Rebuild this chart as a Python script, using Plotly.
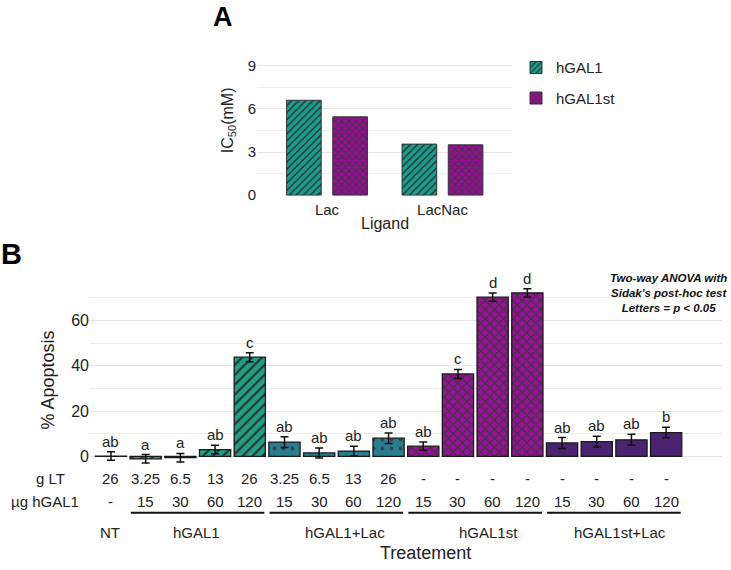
import plotly.graph_objects as go

W, H = 731, 570

# ---------------- Panel A data ----------------
ligands = ["Lac", "LacNac"]
ic50_hgal1 = [6.6, 3.55]
ic50_hgal1st = [5.45, 3.5]
a_yticks = [0, 3, 6, 9]

# ---------------- Panel B data ----------------
treat_ids = ["NT",
             "hGAL1 15", "hGAL1 30", "hGAL1 60", "hGAL1 120",
             "hGAL1+Lac 15", "hGAL1+Lac 30", "hGAL1+Lac 60", "hGAL1+Lac 120",
             "hGAL1st 15", "hGAL1st 30", "hGAL1st 60", "hGAL1st 120",
             "hGAL1st+Lac 15", "hGAL1st+Lac 30", "hGAL1st+Lac 60", "hGAL1st+Lac 120"]
treat_group = ["NT"] + ["hGAL1"] * 4 + ["hGAL1+Lac"] * 4 + ["hGAL1st"] * 4 + ["hGAL1st+Lac"] * 4
apoptosis = [0.12, -1.1, -0.6, 3.0, 43.8, 6.3, 1.5, 2.3, 8.0,
             4.5, 36.4, 70.3, 72.2, 5.9, 6.5, 7.3, 10.5]
apoptosis_err = [1.9, 1.9, 1.9, 1.9, 2.0, 2.4, 2.2, 2.2, 2.3,
                 1.8, 2.0, 1.8, 1.8, 2.4, 2.4, 2.4, 2.3]
letters = ["ab", "a", "a", "ab", "c", "ab", "ab", "ab", "ab",
           "ab", "c", "d", "d", "ab", "ab", "ab", "b"]
g_lt = ["26", "3.25", "6.5", "13", "26", "3.25", "6.5", "13", "26",
        "-", "-", "-", "-", "-", "-", "-", "-"]
ug_hgal1 = ["-", "15", "30", "60", "120", "15", "30", "60", "120",
            "15", "30", "60", "120", "15", "30", "60", "120"]
group_names = ["NT", "hGAL1", "hGAL1+Lac", "hGAL1st", "hGAL1st+Lac"]
b_yticks = [0, 20, 40, 60]

FONT = "Liberation Sans, Arial, sans-serif"
TXT = "#222222"


def px_x(p):
    return p / W


def px_y(p):
    return 1 - p / H


fig = go.Figure()

# ---------------- Panel A bars ----------------
fig.add_trace(go.Bar(
    x=ligands, y=ic50_hgal1, name="hGAL1", xaxis="x", yaxis="y",
    offset=-0.35, width=0.30,
    marker=dict(color="#14a08f", line=dict(color="#333333", width=1),
                pattern=dict(shape="/", fgcolor="#333333", bgcolor="#14a08f",
                             size=5, solidity=0.3, fillmode="replace")),
    legendgroup="a1", showlegend=True,
))
fig.add_trace(go.Bar(
    x=ligands, y=ic50_hgal1st, name="hGAL1st", xaxis="x", yaxis="y",
    offset=0.05, width=0.30,
    marker=dict(color="#9a0c9a", line=dict(color="#333333", width=1),
                pattern=dict(shape="x", fgcolor="#383838", bgcolor="#9a0c9a",
                             size=5, solidity=0.36, fillmode="replace")),
    legendgroup="a2", showlegend=True,
))

# ---------------- Panel B bars ----------------
styles = {
    "NT": dict(color="rgba(255,255,255,0)", pattern=None),
    "hGAL1": dict(color="#1fa087", pattern=dict(shape="/", fgcolor="#2e2e2e", bgcolor="#1fa087",
                                                size=7, solidity=0.3, fillmode="replace")),
    "hGAL1+Lac": dict(color="#287d8e", pattern=dict(shape=".", fgcolor="#34424b", bgcolor="#287d8e",
                                                    size=9, solidity=0.14, fillmode="replace")),
    "hGAL1st": dict(color="#9c0e9c", pattern=dict(shape="x", fgcolor="#383838", bgcolor="#9c0e9c",
                                                  size=6.5, solidity=0.36, fillmode="replace")),
    "hGAL1st+Lac": dict(color="#4a2371", pattern=None),
}
for g in group_names:
    idx = [i for i, t in enumerate(treat_group) if t == g]
    st = styles[g]
    mk = dict(color=st["color"], line=dict(color="#1a1a1a", width=1.3))
    if st["pattern"] is not None:
        mk["pattern"] = st["pattern"]
    fig.add_trace(go.Bar(
        x=[treat_ids[i] for i in idx],
        y=[apoptosis[i] for i in idx],
        error_y=dict(type="data", array=[apoptosis_err[i] for i in idx],
                     color="#111111", thickness=1.5, width=4),
        xaxis="x2", yaxis="y2", width=0.9, showlegend=False,
        marker=mk,
    ))

annotations = []
shapes = []


def ann(x, y, text, size=15, xref="paper", yref="paper", **kw):
    d = dict(x=x, y=y, xref=xref, yref=yref, text=text, showarrow=False,
             xanchor="center", yanchor="middle",
             font=dict(family=FONT, size=size, color=kw.pop("color", TXT)))
    d.update(kw)
    return d


# significance letters
for i, t in enumerate(treat_ids):
    annotations.append(ann(t, apoptosis[i] + apoptosis_err[i], letters[i], xref="x2", yref="y2",
                           yanchor="bottom", yshift=0))

# table rows
for i, t in enumerate(treat_ids):
    annotations.append(ann(t, px_y(485), g_lt[i], xref="x2"))
    annotations.append(ann(t, px_y(509), ug_hgal1[i], xref="x2"))
annotations.append(ann(px_x(50), px_y(485), "g LT"))
annotations.append(ann(px_x(45), px_y(509), "µg hGAL1"))

# group underlines
for g in group_names[1:]:
    idx = [i for i, t in enumerate(treat_group) if t == g]
    shapes.append(dict(type="line", xref="x2", yref="paper",
                       x0=idx[0] - 0.43, x1=idx[-1] + 0.42,
                       y0=px_y(520), y1=px_y(520), line=dict(color="#111111", width=2)))

group_label_px = {"NT": 110, "hGAL1": 196, "hGAL1+Lac": 345, "hGAL1st": 488, "hGAL1st+Lac": 620}
for g in group_names:
    annotations.append(ann(px_x(group_label_px[g]), px_y(540), g))

# axis titles and panel letters
annotations += [
    ann(px_x(425), px_y(561), "Treatement", size=18),
    ann(px_x(48), px_y(386), "% Apoptosis", size=18, textangle=-90),
    ann(px_x(385), px_y(227), "Ligand", size=16),
    ann(px_x(228), px_y(122), "IC<sub>50</sub>(mM)", size=16, textangle=-90),
    ann(px_x(223), px_y(17), "<b>A</b>", size=27, color="#000000"),
    ann(px_x(11), px_y(258), "<b>B</b>", size=29, color="#000000"),
    ann(px_x(668), px_y(297),
        "<b><i>Two-way ANOVA with<br>Sidak's post-hoc test<br>Letters = p &lt; 0.05</i></b>",
        size=11.5, color="#111111", align="center"),
]

GRID = "#e6e6e6"
fig.update_layout(
    width=W, height=H, margin=dict(l=0, r=0, t=0, b=0),
    paper_bgcolor="white", plot_bgcolor="white",
    barmode="overlay",
    font=dict(family=FONT, color=TXT),
    xaxis=dict(domain=[px_x(257), px_x(512)], anchor="y", range=[-0.606, 1.602],
               showgrid=False, zeroline=False, ticks="", showline=False,
               ticklabelstandoff=3, tickfont=dict(size=15, color=TXT)),
    yaxis=dict(domain=[px_y(198.5), px_y(44)], anchor="x", range=[-0.04, 10.56],
               tickvals=a_yticks, showgrid=True, gridcolor=GRID, gridwidth=1,
               zeroline=False, ticks="", tickfont=dict(size=15, color=TXT),
               minor=dict(dtick=1.5, tick0=0, showgrid=True, gridcolor="#eeeeee", gridwidth=0.8)),
    xaxis2=dict(domain=[px_x(90), px_x(722)], anchor="y2", range=[-0.605, 17.61],
                showgrid=False, zeroline=False, ticks="", showticklabels=False,
                categoryorder="array", categoryarray=treat_ids),
    yaxis2=dict(domain=[px_y(472), px_y(286)], anchor="x2", range=[-4, 77],
                tickvals=b_yticks, showgrid=True, gridcolor=GRID, gridwidth=1,
                zeroline=False, ticks="", tickfont=dict(size=16, color=TXT),
                minor=dict(dtick=10, tick0=0, showgrid=True, gridcolor="#eeeeee", gridwidth=0.8)),
    legend=dict(x=px_x(516), y=px_y(52), xanchor="left", yanchor="top",
                font=dict(family=FONT, size=15, color=TXT), tracegroupgap=8,
                bgcolor="rgba(0,0,0,0)"),
    annotations=annotations,
    shapes=shapes,
)

fig.write_html("out.html")
